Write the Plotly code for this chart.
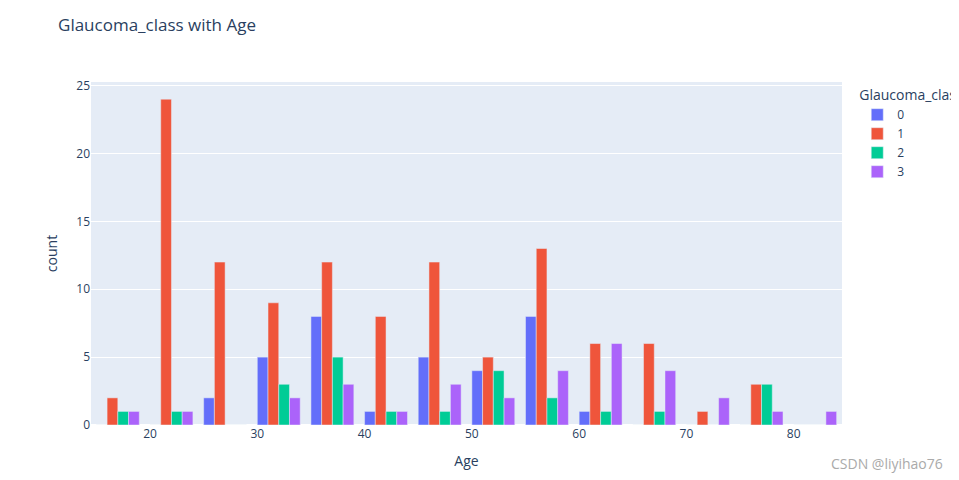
import plotly.graph_objects as go

bin_centers = [17, 22, 27, 32, 37, 42, 47, 52, 57, 62, 67, 72, 77, 82]
class_names = ["0", "1", "2", "3"]
counts_0 = [0, 0, 2, 5, 8, 1, 5, 4, 8, 1, 0, 0, 0, 0]
counts_1 = [2, 24, 12, 9, 12, 8, 12, 5, 13, 6, 6, 1, 3, 0]
counts_2 = [1, 1, 0, 3, 5, 1, 1, 4, 2, 1, 1, 0, 3, 0]
counts_3 = [1, 1, 0, 2, 3, 1, 3, 2, 4, 6, 4, 2, 1, 1]
series = [counts_0, counts_1, counts_2, counts_3]
colors = ["#636efa", "#EF553B", "#00cc96", "#ab63fa"]

fig = go.Figure()
for name, vals, c in zip(class_names, series, colors):
    fig.add_trace(go.Bar(x=bin_centers, y=vals, name=name, marker_color=c,
                         marker_line=dict(width=0.5, color="#E5ECF6")))

fig.update_layout(
    template="plotly",
    width=951, height=472,
    barmode="group", bargap=0.2,
    title=dict(text="Glaucoma_class with Age", x=0.0526, xanchor="left",
               y=0.964, yanchor="middle", font=dict(size=17)),
    margin=dict(l=83, r=117, t=74, b=55, autoexpand=False),
    legend=dict(title=dict(text="Glaucoma_class"), xref="container", x=0.893,
                xanchor="left", y=1, yanchor="top"),
    xaxis=dict(title=dict(text="Age"), range=[14.5, 84.5], dtick=10),
    yaxis=dict(title=dict(text="count")),
    annotations=[dict(text="CSDN @liyihao76", xref="paper", yref="paper", x=1.137, y=-0.111,
                      xanchor="right", yanchor="middle", showarrow=False,
                      font=dict(size=14, color="#aaaaaa"))],
)
fig.write_html("out.html")
